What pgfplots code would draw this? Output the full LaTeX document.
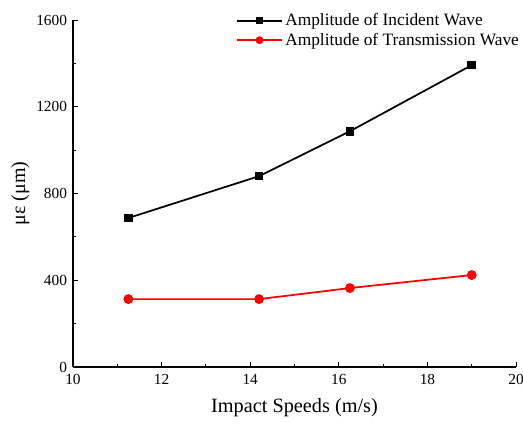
\documentclass[border=0pt]{standalone}
\usepackage{pgfplots}
\pgfplotsset{compat=1.18}
\usepackage{fontspec}
\setmainfont{Liberation Serif}

\begin{document}
\begin{tikzpicture}
% fixed page frame around the 332pt x 260pt axis box
\useasboundingbox (-54.7pt,-42pt) rectangle (337.2pt,275pt);
\begin{axis}[
  scale only axis,
  width=332pt, height=260pt,
  xmin=10, xmax=20, ymin=0, ymax=1600,
  axis lines*=left,
  axis line style={line width=0.8pt},
  tick align=inside,
  xtick={10,12,...,20}, ytick={0,400,...,1600},
  minor tick num=1,
  major tick length=4pt, minor tick length=2.5pt,
  tick style={line width=0.7pt, black},
  /pgf/number format/assume math mode=true,
  /pgf/number format/1000 sep={},
  ticklabel style={font=\fontsize{11.5}{13}\selectfont},
  xticklabel style={yshift=-2pt},
  yticklabel style={xshift=-1pt},
  xlabel={Impact Speeds (m/s)},
  ylabel={με (μm)},
  xlabel style={font=\fontsize{15.2}{17}\selectfont,
    at={(axis description cs:0.5,-0.117)}, anchor=center},
  ylabel style={font=\fontsize{15}{17}\selectfont,
    at={(axis description cs:-0.088,0.5)}, anchor=south, rotate=0},
  legend style={draw=none, fill=none, at={(rel axis cs:1.016,1.031)}, anchor=north east,
    font=\fontsize{13}{14}\selectfont, row sep=0pt, inner sep=1pt},
  legend cell align=left,
  legend image code/.code={
    \draw[mark repeat=2,mark phase=2,#1,mark options={scale=0.75}]
      plot coordinates {(0cm,0cm) (0.585cm,0cm) (1.17cm,0cm)};
  },
]
\addplot[black, line width=1.3pt, mark=square*, mark size=2.6pt] coordinates {
  (11.25,687) (14.2,880) (16.25,1087) (19,1392)
};
\addlegendentry{Amplitude of Incident Wave}
\addplot[red, line width=1.3pt, mark=*, mark size=3pt] coordinates {
  (11.25,313) (14.2,313) (16.25,364) (19,424)
};
\addlegendentry{Amplitude of Transmission Wave}
\end{axis}
\end{tikzpicture}
\end{document}
